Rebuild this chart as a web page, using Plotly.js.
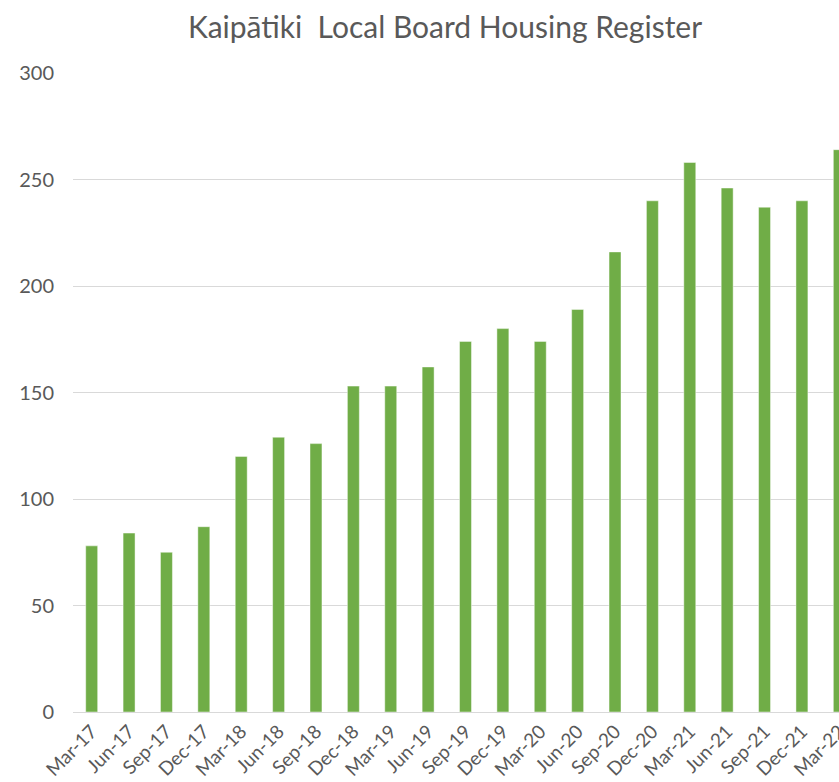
<!DOCTYPE html>
<html>
<head>
<meta charset="utf-8">
<script src="https://cdn.plot.ly/plotly-3.0.1.min.js"></script>
<style>
html,body{margin:0;padding:0;overflow:hidden;background:#fff;width:839px;height:782px;}
#chart{width:900px;height:782px;}
</style>
</head>
<body>
<div id="chart"></div>
<script>
const categories = ["Mar-17","Jun-17","Sep-17","Dec-17","Mar-18","Jun-18","Sep-18","Dec-18","Mar-19","Jun-19","Sep-19","Dec-19","Mar-20","Jun-20","Sep-20","Dec-20","Mar-21","Jun-21","Sep-21","Dec-21","Mar-22"];
const registerCounts = [78,84,75,87,120,129,126,153,153,162,174,180,174,189,216,240,258,246,237,240,264];
const yTicks = [0,50,100,150,200,250,300];
const chartTitle = "Kaipātiki  Local Board Housing Register";

const trace = {
  type: "bar",
  x: categories,
  y: registerCounts,
  marker: {color: "#70AD47", line: {color: "rgba(255,255,255,0.45)", width: 1}},
  hoverinfo: "x+y"
};

const layout = {
  width: 900,
  height: 782,
  margin: {l: 73, r: 42, t: 73, b: 70},
  paper_bgcolor: "#ffffff",
  plot_bgcolor: "#ffffff",
  font: {family: "Lato, 'Open Sans', sans-serif", color: "#595959", size: 19},
  title: {
    text: chartTitle,
    font: {family: "Lato, 'Open Sans', sans-serif", size: 30, color: "#595959"},
    x: 445/900, xref: "container", xanchor: "center",
    y: 1 - 27/782, yref: "container", yanchor: "middle"
  },
  bargap: 0.68,
  showlegend: false,
  xaxis: {
    type: "category",
    range: [-0.5, 20.5],
    tickangle: -45,
    tickfont: {size: 19, color: "#595959"},
    showgrid: false,
    showline: true,
    linecolor: "#D9D9D9",
    linewidth: 1,
    ticks: "",
    fixedrange: true
  },
  yaxis: {
    range: [0, 300],
    tickvals: yTicks,
    tickfont: {size: 20, color: "#595959"},
    showgrid: true,
    gridcolor: "#D9D9D9",
    gridwidth: 1,
    zeroline: false,
    showline: false,
    ticks: "",
    ticklabelstandoff: 18,
    fixedrange: true
  }
};

Plotly.newPlot("chart", [trace], layout, {displayModeBar: false, staticPlot: true});
</script>
</body>
</html>
